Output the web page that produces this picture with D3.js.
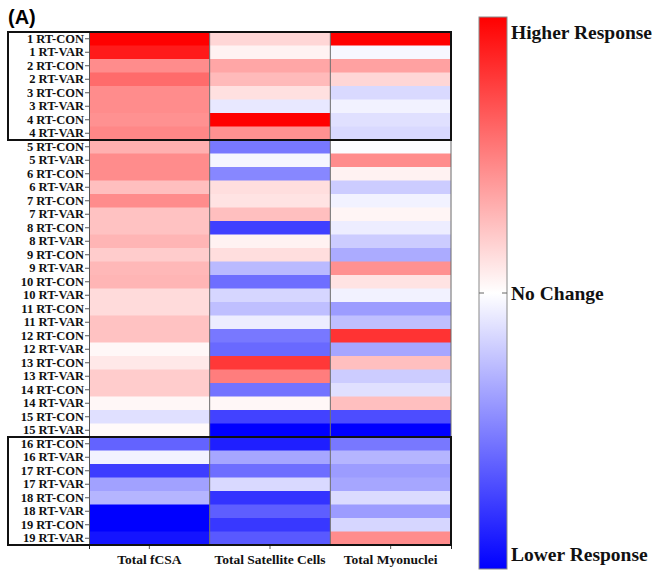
<!DOCTYPE html>
<html>
<head>
<meta charset="utf-8">
<script src="https://cdn.jsdelivr.net/npm/d3@7"></script>
<style>
  html, body { margin: 0; padding: 0; background: #fff; }
  svg { display: block; }
</style>
</head>
<body>
<svg id="chart" width="655" height="571"></svg>
<script>
// Subjects and training conditions (two rows per subject)
const subjects = d3.range(1, 20);
const conditions = ["CON", "VAR"];
const measures = ["Total fCSA", "Total Satellite Cells", "Total Myonuclei"];

// Normalised responses (-1 = lowest, 0 = no change, 1 = highest), one value per row
const fcsa = [
  1.00, 0.90, 0.45, 0.58, 0.45, 0.45, 0.43, 0.47,
  0.31, 0.45, 0.45, 0.25, 0.45, 0.24, 0.24, 0.29,
  0.20, 0.28, 0.29, 0.14, 0.14, 0.24, 0.24, 0.03,
  0.09, 0.20, 0.20, 0.03, -0.12, 0.02,
  -0.61, -0.05, -0.76, -0.37, -0.29, -1.00, -1.00, -0.92
];
const satellite = [
  0.16, 0.05, 0.35, 0.27, 0.12, -0.09, 1.00, 0.43,
  -0.53, -0.04, -0.47, 0.13, 0.11, 0.25, -0.75, 0.05,
  0.13, -0.27, -0.57, -0.16, -0.25, -0.07, -0.53, -0.59,
  0.78, 0.51, -0.55, 0.03, -0.74, -1.00,
  -0.88, -0.35, -0.57, -0.15, -0.80, -0.63, -0.78, -0.65
];
const myonuclei = [
  1.00, -0.03, 0.37, 0.16, -0.15, -0.05, -0.12, -0.15,
  -0.01, 0.45, 0.05, -0.20, -0.05, 0.04, -0.07, -0.20,
  -0.33, 0.43, 0.11, -0.05, -0.39, -0.25, 0.80, -0.35,
  0.25, -0.20, -0.12, 0.25, -0.70, -1.00,
  -0.53, -0.29, -0.39, -0.35, -0.14, -0.39, -0.16, 0.45
];
const colorbarLabels = ["Higher Response", "No Change", "Lower Response"];

const rowLabels = subjects.flatMap(s => conditions.map(c => `${s} RT-${c}`));
const series = [fcsa, satellite, myonuclei];

const svg = d3.select("#chart");
const serif = "'Liberation Serif', 'Times New Roman', serif";

const plotLeft = 89, plotRight = 451, plotTop = 32, plotBottom = 545;

const x = d3.scaleBand().domain(measures).range([plotLeft, plotRight]);
const y = d3.scaleBand().domain(rowLabels).range([plotTop, plotBottom]);
const color = d3.scaleLinear()
  .domain([-1, 0, 1])
  .range(["rgb(0,0,255)", "rgb(255,255,255)", "rgb(255,0,0)"]);

// Heatmap cells
const cells = [];
series.forEach((vals, j) => vals.forEach((v, i) => cells.push({ m: measures[j], r: rowLabels[i], v })));
svg.append("g").selectAll("rect").data(cells).join("rect")
  .attr("x", d => x(d.m))
  .attr("y", d => y(d.r))
  .attr("width", x.bandwidth())
  .attr("height", y.bandwidth() + 0.5)
  .attr("fill", d => color(d.v));

// Column separators and right frame
svg.append("g").selectAll("line").data(measures.slice(1).concat([null])).join("line")
  .attr("x1", d => d ? x(d) : plotRight).attr("x2", d => d ? x(d) : plotRight)
  .attr("y1", plotTop).attr("y2", plotBottom)
  .attr("stroke", "#6b6b6b").attr("stroke-width", 1);

// Axes
const yAxis = svg.append("g")
  .attr("transform", `translate(${plotLeft},0)`)
  .call(d3.axisLeft(y).tickSize(4).tickPadding(1));
yAxis.select(".domain").attr("stroke", "#555");
yAxis.selectAll(".tick line").attr("stroke", "#555");
yAxis.selectAll("text")
  .attr("font-family", serif).attr("font-weight", "bold")
  .attr("font-size", 12.5).attr("fill", "#111");

const xAxis = svg.append("g")
  .attr("transform", `translate(0,${plotBottom})`)
  .call(d3.axisBottom(x).tickSize(4).tickPadding(5));
xAxis.select(".domain").attr("stroke", "#222");
xAxis.selectAll(".tick line").attr("stroke", "#555");
xAxis.selectAll("text")
  .attr("font-family", serif).attr("font-weight", "bold")
  .attr("font-size", 13.5).attr("fill", "#111");

// Group boxes around subjects 1-4 and 16-19
const boxes = [[rowLabels[0], rowLabels[7]], [rowLabels[30], rowLabels[37]]];
svg.append("g").selectAll("rect").data(boxes).join("rect")
  .attr("x", 8)
  .attr("y", d => y(d[0]))
  .attr("width", plotRight - 8)
  .attr("height", d => y(d[1]) + y.bandwidth() - y(d[0]))
  .attr("fill", "none")
  .attr("stroke", "#111")
  .attr("stroke-width", 2);

// Colour bar
const cbX = 479, cbW = 28, cbTop = 17, cbBottom = 569;
const defs = svg.append("defs");
const grad = defs.append("linearGradient")
  .attr("id", "cbGrad").attr("x1", 0).attr("x2", 0).attr("y1", 0).attr("y2", 1);
[1, 0, -1].forEach((v, i) => grad.append("stop")
  .attr("offset", `${i * 50}%`).attr("stop-color", color(v)));
svg.append("rect")
  .attr("x", cbX).attr("y", cbTop).attr("width", cbW).attr("height", cbBottom - cbTop)
  .attr("fill", "url(#cbGrad)").attr("stroke", "#8a8a8a").attr("stroke-width", 1);

const cbScale = d3.scaleLinear().domain([1, -1]).range([cbTop, cbBottom]);
svg.append("line")
  .attr("x1", cbX).attr("x2", cbX + 5)
  .attr("y1", cbScale(0)).attr("y2", cbScale(0))
  .attr("stroke", "#666");
svg.append("line")
  .attr("x1", cbX + cbW - 5).attr("x2", cbX + cbW)
  .attr("y1", cbScale(0)).attr("y2", cbScale(0))
  .attr("stroke", "#666");

const cbLabelY = [cbScale(1) + 22, cbScale(0) + 7, cbScale(-1) - 8];
svg.append("g").selectAll("text").data(colorbarLabels).join("text")
  .attr("x", cbX + cbW + 4)
  .attr("y", (d, i) => cbLabelY[i])
  .attr("font-family", serif).attr("font-weight", "bold")
  .attr("font-size", 19.5).attr("fill", "#111")
  .text(d => d);

// Panel letter
svg.append("text")
  .attr("x", 8).attr("y", 24)
  .attr("font-family", "'Liberation Sans', Arial, sans-serif")
  .attr("font-weight", "bold").attr("font-size", 20)
  .text("(A)");
</script>
</body>
</html>
